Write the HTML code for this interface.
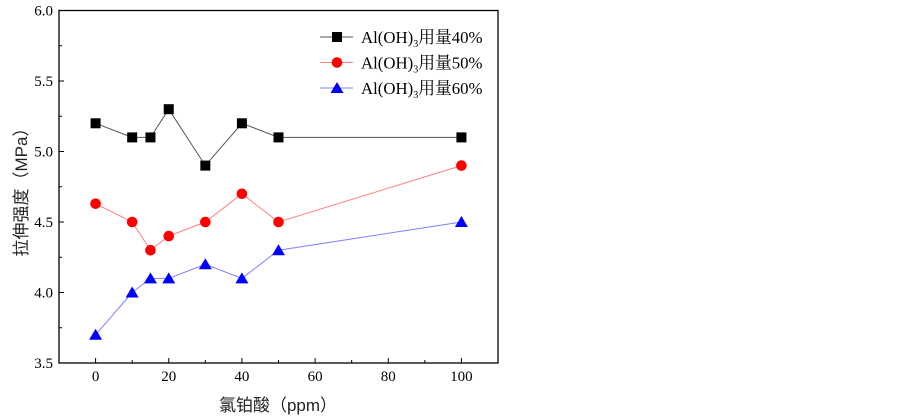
<!DOCTYPE html>
<html><head><meta charset="utf-8"><style>
html,body{margin:0;padding:0;background:#fff;width:903px;height:417px;overflow:hidden}
svg{display:block}
</style></head><body>
<svg id="chart" width="903" height="417" xmlns="http://www.w3.org/2000/svg"></svg>
<script>
const xValues = [0, 10, 15, 20, 30, 40, 50, 100];
const series40 = [5.2, 5.1, 5.1, 5.3, 4.9, 5.2, 5.1, 5.1];
const series50 = [4.63, 4.5, 4.3, 4.4, 4.5, 4.7, 4.5, 4.9];
const series60 = [3.7, 4.0, 4.1, 4.1, 4.2, 4.1, 4.3, 4.5];
const xTicks = [0, 20, 40, 60, 80, 100];
const yTicks = [3.5, 4.0, 4.5, 5.0, 5.5, 6.0];
const seriesNames = ["用量40%", "用量50%", "用量60%"];

const NS = "http://www.w3.org/2000/svg";
const svg = document.getElementById('chart');
const L = 59, R = 498, T = 10.5, B = 363;
const xMin = -10, xMax = 110, yMin = 3.5, yMax = 6.0;
function sx(v){ return L + (v - xMin) / (xMax - xMin) * (R - L); }
function sy(v){ return B - (v - yMin) / (yMax - yMin) * (B - T); }
function mk(tag, attrs, parent){
  const e = document.createElementNS(NS, tag);
  for (const k in attrs) e.setAttribute(k, attrs[k]);
  (parent || svg).appendChild(e);
  return e;
}
const font = '"Liberation Serif", "Noto Serif CJK SC", serif';

const frame = mk('rect', {x:L, y:T, width:R-L, height:B-T, fill:'none', stroke:'#000', 'stroke-width':1.3});



yTicks.forEach((v, i) => {
  const y = sy(v);
  const t = mk('line', {x1:L, x2:L+5, y1:y, y2:y, stroke:'#000', 'stroke-width':1});
  
  
  const lb = mk('text', {x:L-6, y:y+5, 'text-anchor':'end', 'font-family':font, 'font-size':15});
  lb.textContent = v.toFixed(1);
  
  
  if (i < yTicks.length - 1) {
    const ym = sy(v + 0.25);
    const m = mk('line', {x1:L, x2:L+3, y1:ym, y2:ym, stroke:'#000', 'stroke-width':1});
    
    
  }
});
xTicks.forEach(v => {
  const x = sx(v);
  const t = mk('line', {x1:x, x2:x, y1:B, y2:B-5, stroke:'#000', 'stroke-width':1});
  
  
  const lb = mk('text', {x:x, y:B+18, 'text-anchor':'middle', 'font-family':font, 'font-size':15});
  lb.textContent = v;
  
  
  const xm = sx(v + 10);
  if (v + 10 < xMax) {
    const m = mk('line', {x1:xm, x2:xm, y1:B, y2:B-3, stroke:'#000', 'stroke-width':1});
    
    
  }
});
const xt = mk('text', {x:278, y:411, 'text-anchor':'middle', 'font-family':'"Liberation Sans", "Noto Sans CJK SC", sans-serif', 'font-size':17, fill:'#222'});
xt.textContent = '氯铂酸（ppm）';


const yt = mk('text', {x:0, y:0, 'text-anchor':'middle', 'font-family':'"Liberation Sans", "Noto Sans CJK SC", sans-serif', 'font-size':17, fill:'#222', transform:'translate(27,188) rotate(-90)'});
yt.textContent = '拉伸强度（MPa）';



function marker(type, x, y, color, name){
  let e;
  if (type === 'square') e = mk('rect', {x:x-5, y:y-5, width:10, height:10, fill:color});
  else if (type === 'circle') e = mk('circle', {cx:x, cy:y, r:5.3, fill:color});
  else e = mk('polygon', {points:`${x},${y-6} ${x-6.5},${y+5} ${x+6.5},${y+5}`, fill:color});
  
  
}
const defs = [
  {vals:series40, line:'#555', mcol:'#000', type:'square', key:'40'},
  {vals:series50, line:'#ff8080', mcol:'#ff0000', type:'circle', key:'50'},
  {vals:series60, line:'#8080ff', mcol:'#0000ff', type:'triangle', key:'60'}
];
defs.forEach((d, si) => {
  const pts = xValues.map((x, i) => sx(x) + ',' + sy(d.vals[i])).join(' ');
  const pl = mk('polyline', {points:pts, fill:'none', stroke:d.line, 'stroke-width':1});
  
  
  xValues.forEach((x, i) => marker(d.type, sx(x), sy(d.vals[i]), d.mcol, 'point-' + d.key + '-' + x));
  const ly = 37 + si * 25.5;
  const ll = mk('line', {x1:320, x2:353, y1:ly, y2:ly, stroke:d.line, 'stroke-width':1});
  
  
  marker(d.type, 337, ly, d.mcol, 'legend-marker-' + d.key);
  const lt = mk('text', {x:361, y:ly+6, 'font-family':font, 'font-size':16.8});
  
  
  const a = mk('tspan', {}, lt); a.textContent = 'Al(OH)';
  const b = mk('tspan', {'font-size':10, dy:4}, lt); b.textContent = '3';
  const c = mk('tspan', {dy:-4}, lt); c.textContent = seriesNames[si];
});
</script>
</body></html>
